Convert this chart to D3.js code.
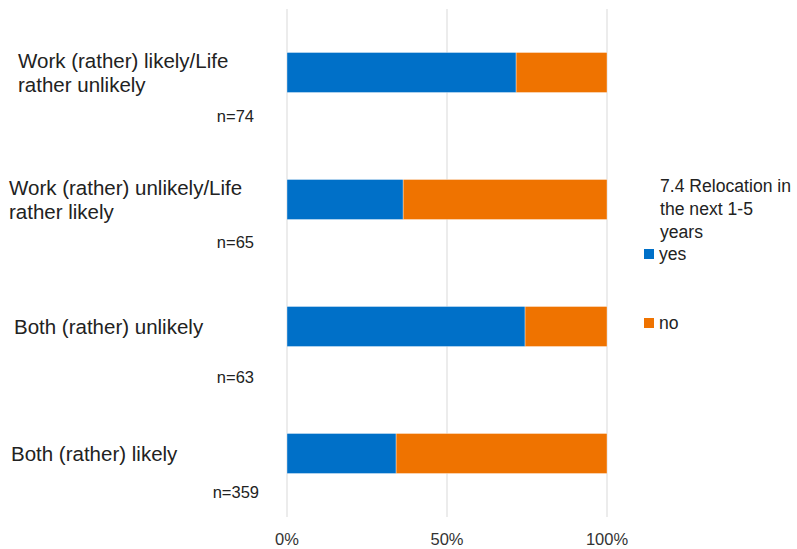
<!DOCTYPE html>
<html>
<head>
<meta charset="utf-8">
<script src="https://cdn.jsdelivr.net/npm/d3@7"></script>
<style>
  html, body { margin: 0; padding: 0; background: #fff; }
  svg { display: block; font-family: "Liberation Sans", Arial, sans-serif; }
</style>
</head>
<body>
<svg id="chart" width="797" height="549"></svg>
<script>
// Categories (top to bottom), with line breaks as drawn
const categories = [
  "Work (rather) likely/Life\nrather unlikely",
  "Work (rather) unlikely/Life\nrather likely",
  "Both (rather) unlikely",
  "Both (rather) likely"
];
const sampleSizes = ["n=74", "n=65", "n=63", "n=359"];
// Share answering "yes" (%); "no" is the remainder
const yesShare = [71.6, 36.3, 74.4, 34.1];
const noShare = yesShare.map(v => 100 - v);
const seriesNames = ["yes", "no"];
const legendTitle = ["7.4 Relocation in", "the next 1-5", "years"];
const tickValues = [0, 50, 100];

const colors = { yes: "#0070c8", no: "#ef7300" };

const svg = d3.select("#chart");

const x = d3.scaleLinear().domain([0, 100]).range([287, 607]);
const y = d3.scaleBand().domain(categories).range([9, 517]).paddingInner(0.685).paddingOuter(0.3425);

// Vertical gridlines
svg.append("g").selectAll("line").data(tickValues).join("line")
  .attr("x1", d => x(d)).attr("x2", d => x(d))
  .attr("y1", 9).attr("y2", 517)
  .attr("stroke", "#d9d9d9").attr("stroke-width", 1);

// Stacked bars
const rows = categories.map((c, i) => ({ cat: c, yes: yesShare[i], no: noShare[i] }));
const stack = d3.stack().keys(seriesNames)(rows);
svg.append("g").selectAll("g").data(stack).join("g")
  .attr("fill", d => colors[d.key])
  .selectAll("rect").data(d => d).join("rect")
    .attr("x", d => x(d[0]))
    .attr("width", d => x(d[1]) - x(d[0]))
    .attr("y", d => y(d.data.cat))
    .attr("height", y.bandwidth())
    .attr("stroke", "#ffffff").attr("stroke-width", 0.6).attr("stroke-opacity", 0.6);

// Category labels
const labelX = [18, 9, 14, 11];
const labelG = svg.append("g").attr("font-size", 20.5).attr("fill", "#222");
categories.forEach((c, i) => {
  const lines = c.split("\n");
  const cy = y(c) + y.bandwidth() / 2;
  const lineH = 24;
  const t = labelG.append("text").attr("x", labelX[i]);
  lines.forEach((ln, j) => {
    t.append("tspan").attr("x", labelX[i])
      .attr("y", cy - (lines.length - 1) * lineH / 2 + j * lineH)
      .attr("dy", "0.35em").text(ln);
  });
});

// Sample size labels
const nOffset = [44, 43, 51, 39];
svg.append("g").attr("font-size", 16.5).attr("fill", "#222").attr("text-anchor", "end")
  .selectAll("text").data(sampleSizes).join("text")
  .attr("x", (d, i) => i === 3 ? 259 : 254)
  .attr("y", (d, i) => y(categories[i]) + y.bandwidth() / 2 + nOffset[i])
  .attr("dy", "0.35em")
  .text(d => d);

// X axis tick labels
svg.append("g").attr("font-size", 16.5).attr("fill", "#333").attr("text-anchor", "middle")
  .selectAll("text").data(tickValues).join("text")
  .attr("x", d => x(d)).attr("y", 539).attr("dy", "0.35em")
  .text(d => d + "%");

// Legend
const legend = svg.append("g").attr("font-size", 17.6).attr("fill", "#222");
legendTitle.forEach((ln, j) => {
  legend.append("text").attr("x", 660).attr("y", 186 + j * 23).attr("dy", "0.35em").text(ln);
});
const legendY = [254, 323];
seriesNames.forEach((s, i) => {
  legend.append("rect").attr("x", 644).attr("y", legendY[i] - 5).attr("width", 10).attr("height", 10)
    .attr("fill", colors[s]);
  legend.append("text").attr("x", 659).attr("y", legendY[i]).attr("dy", "0.35em").text(s);
});
</script>
</body>
</html>
